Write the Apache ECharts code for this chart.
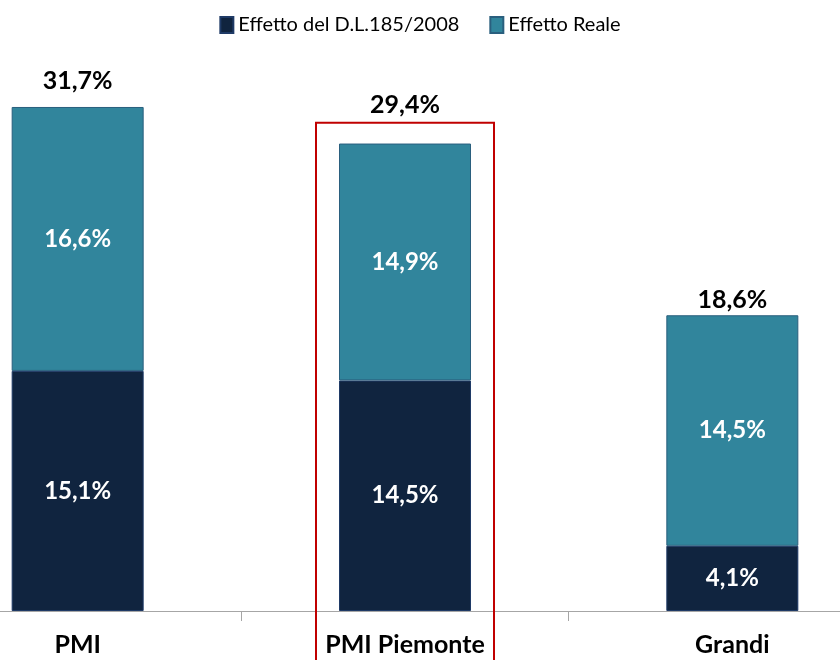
<!DOCTYPE html>
<html>
<head>
<meta charset="utf-8">
<script src="https://cdn.jsdelivr.net/npm/echarts@6/dist/echarts.min.js"></script>
<style>
    html, body { margin: 0; padding: 0; background: #fff; }
    #chart { width: 840px; height: 660px; }
</style>
</head>
<body>
<div id="chart"></div>
<script>
// dati
var categories = ['PMI', 'PMI Piemonte', 'Grandi']
var effettoDL = [15.1, 14.5, 4.1]
var effettoReale = [16.6, 14.9, 14.5]
var totali = [31.7, 29.4, 18.6]
var seriesNames = ['Effetto del D.L.185/2008', 'Effetto Reale']

var fontFamily = 'Lato, "Liberation Sans", sans-serif'
// distanza delle etichette dei totali dalla cima della barra
var totalLabelGap = [14, 26, 3]

function pct (v) {
    return v.toFixed(1).replace('.', ',') + '%'
}

var myChart = echarts.init(document.getElementById('chart'))

myChart.setOption({
    animation: false,
    textStyle: { fontFamily: fontFamily },
    legend: {
        data: seriesNames,
        top: 10,
        left: 'center',
        itemWidth: 13,
        itemHeight: 16,
        itemGap: 30,
        icon: 'rect',
        textStyle: { fontSize: 20, color: '#000', fontFamily: fontFamily }
    },
    grid: {
        left: -86,
        right: -56,
        top: 54.5,
        bottom: 49,
        outerBoundsMode: 'none'
    },
    xAxis: {
        type: 'category',
        data: categories,
        axisLine: { lineStyle: { color: '#a6a6a6', width: 1 } },
        axisTick: { show: true, length: 10, lineStyle: { color: '#a6a6a6' } },
        axisLabel: {
            margin: 21,
            fontSize: 25,
            fontWeight: 'bold',
            color: '#000',
            fontFamily: fontFamily
        }
    },
    yAxis: {
        type: 'value',
        min: 0,
        max: 35,
        show: false
    },
    series: [
        {
            name: seriesNames[0],
            type: 'bar',
            stack: 'tot',
            barWidth: 132,
            data: effettoDL,
            itemStyle: { color: '#10243F', borderColor: '#1F3A66', borderWidth: 1 },
            label: {
                show: true,
                position: 'inside',
                color: '#fff',
                fontSize: 24,
                fontWeight: 'bold',
                fontFamily: fontFamily,
                formatter: function (p) { return pct(p.value) }
            }
        },
        {
            name: seriesNames[1],
            type: 'bar',
            stack: 'tot',
            barWidth: 132,
            data: effettoReale,
            itemStyle: { color: '#31859C', borderColor: '#2A5F7E', borderWidth: 1 },
            label: {
                show: true,
                position: 'inside',
                color: '#fff',
                fontSize: 24,
                fontWeight: 'bold',
                fontFamily: fontFamily,
                formatter: function (p) { return pct(p.value) }
            }
        },
        {
            // etichette dei totali sopra le barre
            name: 'Totale',
            type: 'bar',
            stack: 'tot',
            barWidth: 132,
            data: totali.map(function (t, i) {
                return { value: 0, label: { distance: totalLabelGap[i] } }
            }),
            itemStyle: { color: 'transparent' },
            label: {
                show: true,
                position: 'top',
                color: '#000',
                fontSize: 25,
                fontWeight: 'bold',
                fontFamily: fontFamily,
                formatter: function (p) { return pct(totali[p.dataIndex]) }
            }
        }
    ]
})

// riquadro rosso attorno a PMI Piemonte
var centro = myChart.convertToPixel({ xAxisIndex: 0, yAxisIndex: 0 }, ['PMI Piemonte', 30.7])
myChart.setOption({
    graphic: [{
        type: 'rect',
        shape: { x: centro[0] - 89, y: centro[1], width: 178, height: 660 - centro[1] + 10 },
        style: { fill: 'none', stroke: '#C00000', lineWidth: 2 },
        z: 10
    }]
})
</script>
</body>
</html>
